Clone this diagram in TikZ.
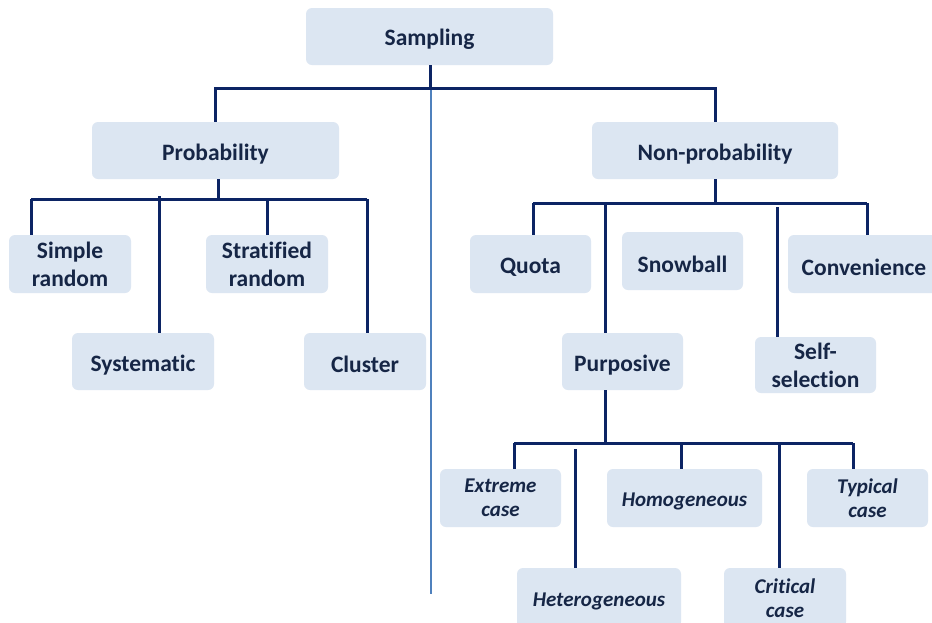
\documentclass[tikz,border=0pt]{standalone}
\usepackage{fontspec}
\setmainfont[Ligatures=NoCommon]{Carlito}
\definecolor{boxfill}{RGB}{220,230,242}
\definecolor{linec}{RGB}{12,36,100}
\definecolor{txt}{RGB}{22,38,70}
\definecolor{thinc}{RGB}{79,129,189}
\begin{document}
\begin{tikzpicture}[x=1pt,y=-1pt,
  box/.style={fill=boxfill, rounded corners=6pt, text=txt,
    font=\fontsize{23.5}{28}\selectfont\bfseries, align=center, inner sep=0pt,
    execute at begin node={\rule{0pt}{0.97em}}},
  ibox/.style={box, font=\fontsize{21}{24.5}\selectfont\bfseries\itshape},
  link/.style={draw=linec, line width=3pt},
  thinline/.style={draw=thinc, line width=1.2pt}]
\clip (0,0) rectangle (932,622);
\fill[white] (0,0) rectangle (932,622);

% nodes
\node[box, minimum width=247, minimum height=57] (samp) at (429.5,36.5) {Sampling};
\node[box, minimum width=247, minimum height=57] (prob) at (215.5,150.5) {Probability};
\node[box, minimum width=246, minimum height=57] (np) at (715,150.5) {Non-probability};

\node[box, minimum width=122, minimum height=58] (simple) at (70,264) {Simple\\random};
\node[box, minimum width=122, minimum height=58] (strat) at (267,264) {Stratified\\random};
\node[box, minimum width=142, minimum height=57] (syst) at (143,361.5) {Systematic};
\node[box, minimum width=122, minimum height=57] (clus) at (365,361.5) {Cluster};

\node[box, minimum width=121, minimum height=58] (quota) at (530.5,264) {Quota};
\node[box, minimum width=121, minimum height=58] (snow) at (682.5,261) {Snowball};
\node[box, minimum width=152, minimum height=58] (conv) at (864,264) {Convenience};
\node[box, minimum width=121, minimum height=57] (purp) at (622.5,361.5) {Purposive};
\node[box, minimum width=121, minimum height=56] (self) at (815.5,365) {Self-\\selection};

\node[ibox, minimum width=121, minimum height=58] (ext) at (500.5,498) {Extreme\\case};
\node[ibox, minimum width=155, minimum height=58] (homo) at (684.5,498) {Homogeneous};
\node[ibox, minimum width=121, minimum height=58] (typ) at (867.5,498) {Typical\\case};
\node[ibox, minimum width=164, minimum height=60] (het) at (599,598) {Heterogeneous};
\node[ibox, minimum width=122, minimum height=60] (crit) at (785,598) {Critical\\case};

% thin line
\coordinate (t0) at (431,88);
\coordinate (t1) at (431,594);
\draw[thinline] (t0) -- (t1);

% level 0
\coordinate (j0) at (430,88);
\draw[link] (samp.south -| j0) -- (j0);
\draw[link] (prob.north) -- (prob.north |- j0) -- (np.north |- j0) -- (np.north);

% probability children
\coordinate (j1) at (218,199);
\coordinate (b1l) at (31,199);
\coordinate (b1r) at (367,199);
\draw[link] (prob.south -| j1) -- (j1);
\draw[link] (b1l) -- (b1r);
\draw[link] (b1l) -- (b1l |- simple.north);
\coordinate (d1) at (159,196);
\draw[link] (d1) -- (d1 |- syst.north);
\coordinate (d2) at (267,199);
\draw[link] (d2) -- (d2 |- strat.north);
\draw[link] (b1r) -- (b1r |- clus.north);

% non-probability children
\coordinate (j2) at (715,203);
\coordinate (b2l) at (533,203);
\coordinate (b2r) at (867,203);
\draw[link] (np.south -| j2) -- (j2);
\draw[link] (b2l) -- (b2r);
\draw[link] (b2l) -- (b2l |- quota.north);
\coordinate (d3) at (605,203);
\draw[link] (d3) -- (d3 |- purp.north);
\coordinate (d4) at (777,207);
\draw[link] (d4) -- (d4 |- self.north);
\draw[link] (b2r) -- (b2r |- conv.north);

% purposive children
\coordinate (j3) at (605,443);
\coordinate (b3l) at (514,443);
\coordinate (b3r) at (853,443);
\draw[link] (purp.south -| j3) -- (j3);
\draw[link] (b3l) -- (b3r);
\draw[link] (b3l) -- (b3l |- ext.north);
\coordinate (d5) at (575,449);
\draw[link] (d5) -- (d5 |- het.north);
\coordinate (d6) at (681,443);
\draw[link] (d6) -- (d6 |- homo.north);
\coordinate (d7) at (779,443);
\draw[link] (d7) -- (d7 |- crit.north);
\draw[link] (b3r) -- (b3r |- typ.north);
\end{tikzpicture}
\end{document}
